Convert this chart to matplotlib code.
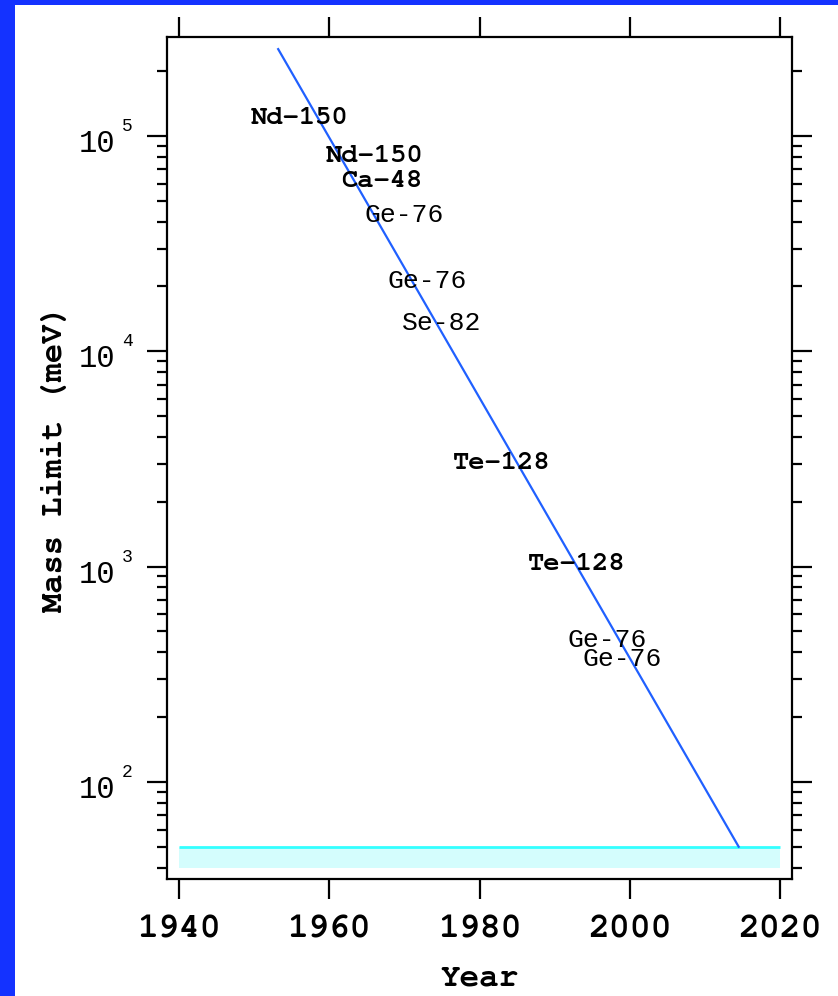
import matplotlib
matplotlib.use("Agg")
import matplotlib.pyplot as plt
from matplotlib import font_manager
from matplotlib.ticker import LogLocator, NullFormatter, FixedLocator
from matplotlib.transforms import ScaledTranslation
from matplotlib.patches import Rectangle

# ---------------- data ----------------
isotopes = ["Nd-150", "Nd-150", "Ca-48", "Ge-76", "Ge-76", "Se-82",
            "Te-128", "Te-128", "Ge-76", "Ge-76"]
years = [1956, 1966, 1967, 1970, 1973, 1975, 1983, 1993, 1997, 1999]
mass_limits = [1.21e5, 8.1e4, 6.2e4, 4.3e4, 2.12e4, 1.35e4, 3030, 1030, 456, 372]
bold_label = [True, True, True, False, False, False, True, True, False, False]

fit_years = [1953.2, 2014.5]
fit_mass = [2.53e5, 50.0]

band_years = [1940, 2020]
band_low = 40.0
band_high = 50.0

x_ticks = [1940, 1960, 1980, 2000, 2020]
y_tick_exponents = [2, 3, 4, 5]

# ---------------- fonts ----------------
avail = {f.name for f in font_manager.fontManager.ttflist}
mono = next((f for f in ["Courier New", "Nimbus Mono PS", "FreeMono", "Liberation Mono",
                          "DejaVu Sans Mono"] if f in avail), "DejaVu Sans Mono")
sansmono = "Liberation Mono" if "Liberation Mono" in avail else "DejaVu Sans Mono"
plt.rcParams["font.family"] = [mono, "DejaVu Sans Mono"]

W, H = 838, 996
fig = plt.figure(figsize=(W / 100, H / 100), dpi=100)

# blue frame strips
fig.patches.append(Rectangle((0, 0), 14.5 / W, 1, transform=fig.transFigure,
                             facecolor="#1432ff", edgecolor="none", zorder=0))
fig.patches.append(Rectangle((0, 1 - 5 / H), 1, 5 / H, transform=fig.transFigure,
                             facecolor="#1432ff", edgecolor="none", zorder=0))

ax = fig.add_axes([167 / W, 1 - 879 / H, (792 - 167) / W, (879 - 37) / H])
ax.set_yscale("log")
ax.set_xlim(1938.4, 2021.6)
ax.set_ylim(35.4, 2.88e5)

# band
ax.fill_between(band_years, band_low, band_high, color="#d4fdfd", linewidth=0, zorder=1)
ax.plot(band_years, [band_high, band_high], color="#33ffff", lw=2.0, zorder=2,
        solid_capstyle="butt")

# fit line
ax.plot(fit_years, fit_mass, color="#2060ff", lw=1.6, zorder=3)

# labels
for name, yr, m, b in zip(isotopes, years, mass_limits, bold_label):
    if b:
        ax.text(yr, m, name, ha="center", va="center", fontsize=19.5,
                fontweight="bold", family=[mono, "DejaVu Sans Mono"], zorder=4)
    else:
        ax.text(yr, m, name, ha="center", va="center", fontsize=19,
                family=[sansmono, "DejaVu Sans Mono"], zorder=4)

for s in ax.spines.values():
    s.set_linewidth(1.6)

ax.xaxis.set_major_locator(FixedLocator(x_ticks))
ax.yaxis.set_major_locator(FixedLocator([10.0 ** e for e in y_tick_exponents]))
ax.yaxis.set_minor_locator(LogLocator(base=10, subs=range(2, 10), numticks=20))
ax.yaxis.set_major_formatter(NullFormatter())
ax.yaxis.set_minor_formatter(NullFormatter())

ax.tick_params(axis="both", which="major", direction="out", length=14.4, width=1.6,
               labelsize=25, top=True, right=True)
ax.tick_params(axis="both", which="minor", direction="out", length=7.2, width=1.6,
               top=False, right=True)
ax.tick_params(axis="x", which="major", pad=12)
for lab in ax.get_xticklabels():
    lab.set_fontweight("bold")

# y tick labels: 10 with raised exponent
ytr = ax.get_yaxis_transform()
px = 72 / 100.0
for e in y_tick_exponents:
    base_tr = ytr + ScaledTranslation((115 - 167) * px / 72, -8 * px / 72, fig.dpi_scale_trans)
    ax.text(0, 10.0 ** e, "10", transform=base_tr, ha="right", va="center",
            fontsize=22, family=[sansmono, "DejaVu Sans Mono"], clip_on=False)
    exp_tr = ytr + ScaledTranslation((122 - 167) * px / 72, 1 * px / 72, fig.dpi_scale_trans)
    ax.text(0, 10.0 ** e, str(e), transform=exp_tr, ha="left", va="bottom",
            fontsize=13, family=[sansmono, "DejaVu Sans Mono"], clip_on=False)

ax.set_xlabel("Year", fontsize=23.5, fontweight="bold", labelpad=14)
ax.set_ylabel("Mass Limit (meV)", fontsize=23, fontweight="bold", labelpad=53)

fig.savefig("out.png", dpi=100)
